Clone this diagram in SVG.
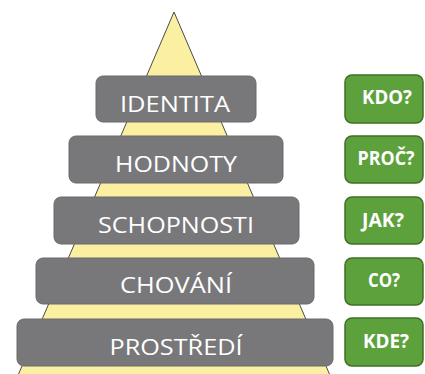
<svg xmlns="http://www.w3.org/2000/svg" width="425" height="374" viewBox="0 0 425 374">
<style>
.lvl rect{fill:#78787b;stroke:#6a6a6d;stroke-width:1}
.lvl text{fill:#fff;font-family:"Open Sans","Liberation Sans",sans-serif;font-size:22px;text-anchor:middle}
.q rect{fill:#5da13c;stroke:#3f6f27;stroke-width:1.5}
.q text{fill:#fff;font-family:"Open Sans","Liberation Sans",sans-serif;font-size:19px;font-weight:bold;text-anchor:middle}
</style>
<rect width="425" height="374" fill="#fff"/>
<polygon id="pyramid" points="174,12 16,380 332,380" fill="#fbf0a2" stroke="#4a4a4a" stroke-width="1"/>
<g id="connectors"/>
<g id="identita" class="lvl"><rect x="96" y="76" width="160" height="46" rx="7"/><text x="175" y="112" textLength="110" lengthAdjust="spacingAndGlyphs">IDENTITA</text></g>
<g id="hodnoty" class="lvl"><rect x="69" y="136" width="214" height="47" rx="7"/><text x="176" y="172" textLength="122" lengthAdjust="spacingAndGlyphs">HODNOTY</text></g>
<g id="schopnosti" class="lvl"><rect x="54" y="197" width="245" height="47" rx="7"/><text x="176" y="233" textLength="156" lengthAdjust="spacingAndGlyphs">SCHOPNOSTI</text></g>
<g id="chovani" class="lvl"><rect x="36" y="258" width="278" height="46" rx="7"/><text x="176" y="293" textLength="112" lengthAdjust="spacingAndGlyphs">CHOVÁNÍ</text></g>
<g id="prostredi" class="lvl"><rect x="17" y="319" width="316" height="47" rx="7"/><text x="176" y="355" textLength="133" lengthAdjust="spacingAndGlyphs">PROSTŘEDÍ</text></g>
<g id="kdo" class="q"><rect x="345" y="75" width="78" height="48" rx="7"/><text x="387" y="104" textLength="50" lengthAdjust="spacingAndGlyphs">KDO?</text></g>
<g id="proc" class="q"><rect x="345" y="136" width="78" height="47" rx="7"/><text x="386" y="165" textLength="57" lengthAdjust="spacingAndGlyphs">PROČ?</text></g>
<g id="jak" class="q"><rect x="345" y="197" width="78" height="47" rx="7"/><text x="383" y="227" textLength="42" lengthAdjust="spacingAndGlyphs">JAK?</text></g>
<g id="co" class="q"><rect x="345" y="258" width="78" height="47" rx="7"/><text x="384" y="287" textLength="32" lengthAdjust="spacingAndGlyphs">CO?</text></g>
<g id="kde" class="q"><rect x="345" y="318" width="78" height="48" rx="7"/><text x="386" y="348" textLength="46" lengthAdjust="spacingAndGlyphs">KDE?</text></g>
</svg>
